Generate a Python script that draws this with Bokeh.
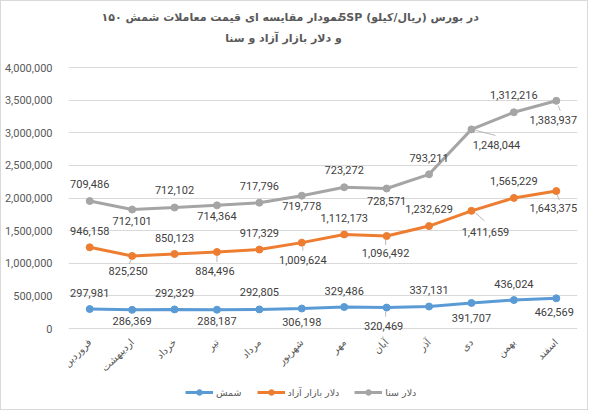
import math
import numpy as np
from bokeh.plotting import figure
from bokeh.models import (ColumnDataSource, Range1d, FixedTicker, NumeralTickFormatter,
                          LabelSet, Label, Legend, LegendItem, FactorRange)
from bokeh.core.properties import value
from bokeh.embed import file_html
from bokeh.resources import INLINE

# Months of the Persian year
months = ["فروردین", "اردیبهشت", "خرداد", "تیر", "مرداد", "شهریور",
          "مهر", "آبان", "آذر", "دی", "بهمن", "اسفند"]

# Prices (rial per kilo) per series
bullion = [297981, 286369, 292329, 288187, 292805, 306198,
           329486, 320469, 337131, 391707, 436024, 462569]
free_usd = [946158, 825250, 850123, 884496, 917329, 1009624,
            1112173, 1096492, 1232629, 1411659, 1565229, 1643375]
sana_usd = [709486, 712101, 712102, 714364, 717796, 719778,
            723272, 728571, 793211, 1248044, 1312216, 1383937]

series_names = ["شمش", "دلار بازار آزاد", "دلار سنا"]
y_ticks = [0, 500000, 1000000, 1500000, 2000000, 2500000, 3000000, 3500000, 4000000]

# first title line, kept in its script runs
title_line1_parts = ["نمودار مقایسه ای قیمت معاملات شمش ۱۵۰", "-", "5SP", "در بورس (ریال/کیلو)"]
title_line2 = "و دلار بازار آزاد و سنا"

# ---- label placement (pixels, up is positive) ----
label_dy = [
    [16, -11, 16, -11, 17, -13, 16, -18, 17, -15, 16, -14],
    [16, -15, 16, -19, 17, -17, 16, -17, 17, -21, 17, -17],
    [17, -11, 17, -11, 17, -10, 17, -12, 16, -16, 17, -19],
]
label_dx = [
    [0, 0, 0, 0, 0, 0, 0, -3, 0, 0, 0, -2],
    [0, -4, 0, -2, 0, 1, 0, -1, 0, 14, 0, -3],
    [0, 0, 0, 0, 0, 0, 0, 0, 0, 25, 0, -3],
]
# leader lines: (series, month index, x0, y0, x1, y1) in pixels from the point
leaders = [
    (2, 9, 4, -1, 24, -6),
    (2, 11, 2, -5, 4, -10),
    (1, 9, 4, -2, 13, -10),
    (1, 11, 1, -4, 3, -9),
    (1, 1, -1, -4, -3, -8),
    (1, 3, 0, -4, 0, -10),
    (1, 5, 1, -4, 1, -8),
    (1, 7, -1, -4, -1, -9),
    (0, 7, -1, -4, -1, -9),
]

colors = ["#5B9BD5", "#ED7D31", "#A5A5A5"]

# canvas layout (pixels)
W, H = 588, 410
BL, BR = 67, 12
ZERO_PX, TOP_PX = 327, 66          # canvas rows of the 0 and 4,000,000 gridlines
y_top_tick = 4000000
px_y = y_top_tick / (ZERO_PX - TOP_PX)
frame_w = W - BL - BR
px_x = len(months) / frame_w
y_lo = -(H - ZERO_PX) * px_y
y_hi = y_top_tick + TOP_PX * px_y

p = figure(width=W, height=H, x_range=FactorRange(*months), y_range=Range1d(y_lo, y_hi),
           output_backend="svg", toolbar_location=None, min_border=0,
           min_border_left=BL, min_border_right=BR, min_border_top=0, min_border_bottom=0,
           background_fill_color="white", border_fill_color="white")
p.styles = {"border": "1px solid #D9D9D9"}
p.outline_line_color = None

p.xaxis.visible = False
p.xgrid.visible = False
p.ygrid.grid_line_color = "#D9D9D9"
p.ygrid.grid_line_width = 1

p.yaxis.ticker = FixedTicker(ticks=y_ticks)
p.yaxis.formatter = NumeralTickFormatter(format="0,0")
p.yaxis.axis_line_color = None
p.yaxis.major_tick_line_color = None
p.yaxis.minor_tick_line_color = None
p.yaxis.major_label_standoff = 10
p.yaxis.major_label_text_font = "Roboto"
p.yaxis.major_label_text_font_size = "11px"
p.yaxis.major_label_text_color = "#595959"

# month names under the 0 line, slanted
month_src = ColumnDataSource(dict(x=months, y=[0] * len(months)))
p.add_layout(LabelSet(x="x", y="y", text="x", source=month_src, x_offset=0, y_offset=-12,
                      angle=math.pi / 4, text_align="right", text_baseline="middle",
                      text_font=value("DejaVu Sans"), text_font_size="10px",
                      text_color="#595959"))

stacked = np.cumsum(np.array([bullion, free_usd, sana_usd], dtype=float), axis=0)
raw = [bullion, free_usd, sana_usd]

legend_items = []
for k in range(3):
    src = ColumnDataSource(dict(
        x=months, y=stacked[k],
        txt=[f"{v:,}" for v in raw[k]],
        dx=label_dx[k], dy=label_dy[k],
    ))
    ln = p.line("x", "y", source=src, line_width=3, line_color=colors[k])
    dots = p.scatter("x", "y", source=src, size=7, fill_color=colors[k], line_color=colors[k])
    legend_items.append(LegendItem(label=series_names[k], renderers=[ln, dots]))
    p.add_layout(LabelSet(x="x", y="y", text="txt", source=src, x_offset="dx", y_offset="dy",
                          text_align="center", text_baseline="middle",
                          text_font=value("Roboto"), text_font_size="11px",
                          text_color="#404040"))

# leader lines linking moved labels to their points
x0s, y0s, x1s, y1s = [], [], [], []
for s, i, ax, ay, bx, by in leaders:
    cx, cy = i + 0.5, stacked[s][i]
    x0s.append(cx + ax * px_x)
    y0s.append(cy + ay * px_y)
    x1s.append(cx + bx * px_x)
    y1s.append(cy + by * px_y)
p.segment(x0=x0s, y0=y0s, x1=x1s, y1=y1s, line_color="#A6A6A6", line_width=0.8)

legend = Legend(items=legend_items, orientation="horizontal", location=(117, 12),
                padding=0, margin=0, spacing=15, label_standoff=3,
                glyph_width=28, glyph_height=14, label_height=14,
                border_line_color=None, background_fill_alpha=0,
                label_text_font="DejaVu Sans", label_text_font_size="9.5px",
                label_text_color="#595959")
p.add_layout(legend, "center")

# two-line chart title; each run of the first line is centred on its own spot
title_style = dict(x_units="screen", y_units="screen", text_baseline="middle",
                   text_align="center", text_font="DejaVu Sans", text_font_size="11px",
                   text_font_style="bold", text_color="#595959")
line1_centres = [220, 332, 349, 421]   # canvas x of each run's centre
for txt, cx in zip(title_line1_parts, line1_centres):
    p.add_layout(Label(x=cx - BL, y=H - 16, text=txt, **title_style))
p.add_layout(Label(x=282 - BL, y=H - 37, text=title_line2, **title_style))

open("out.html", "w").write(file_html(p, INLINE))
